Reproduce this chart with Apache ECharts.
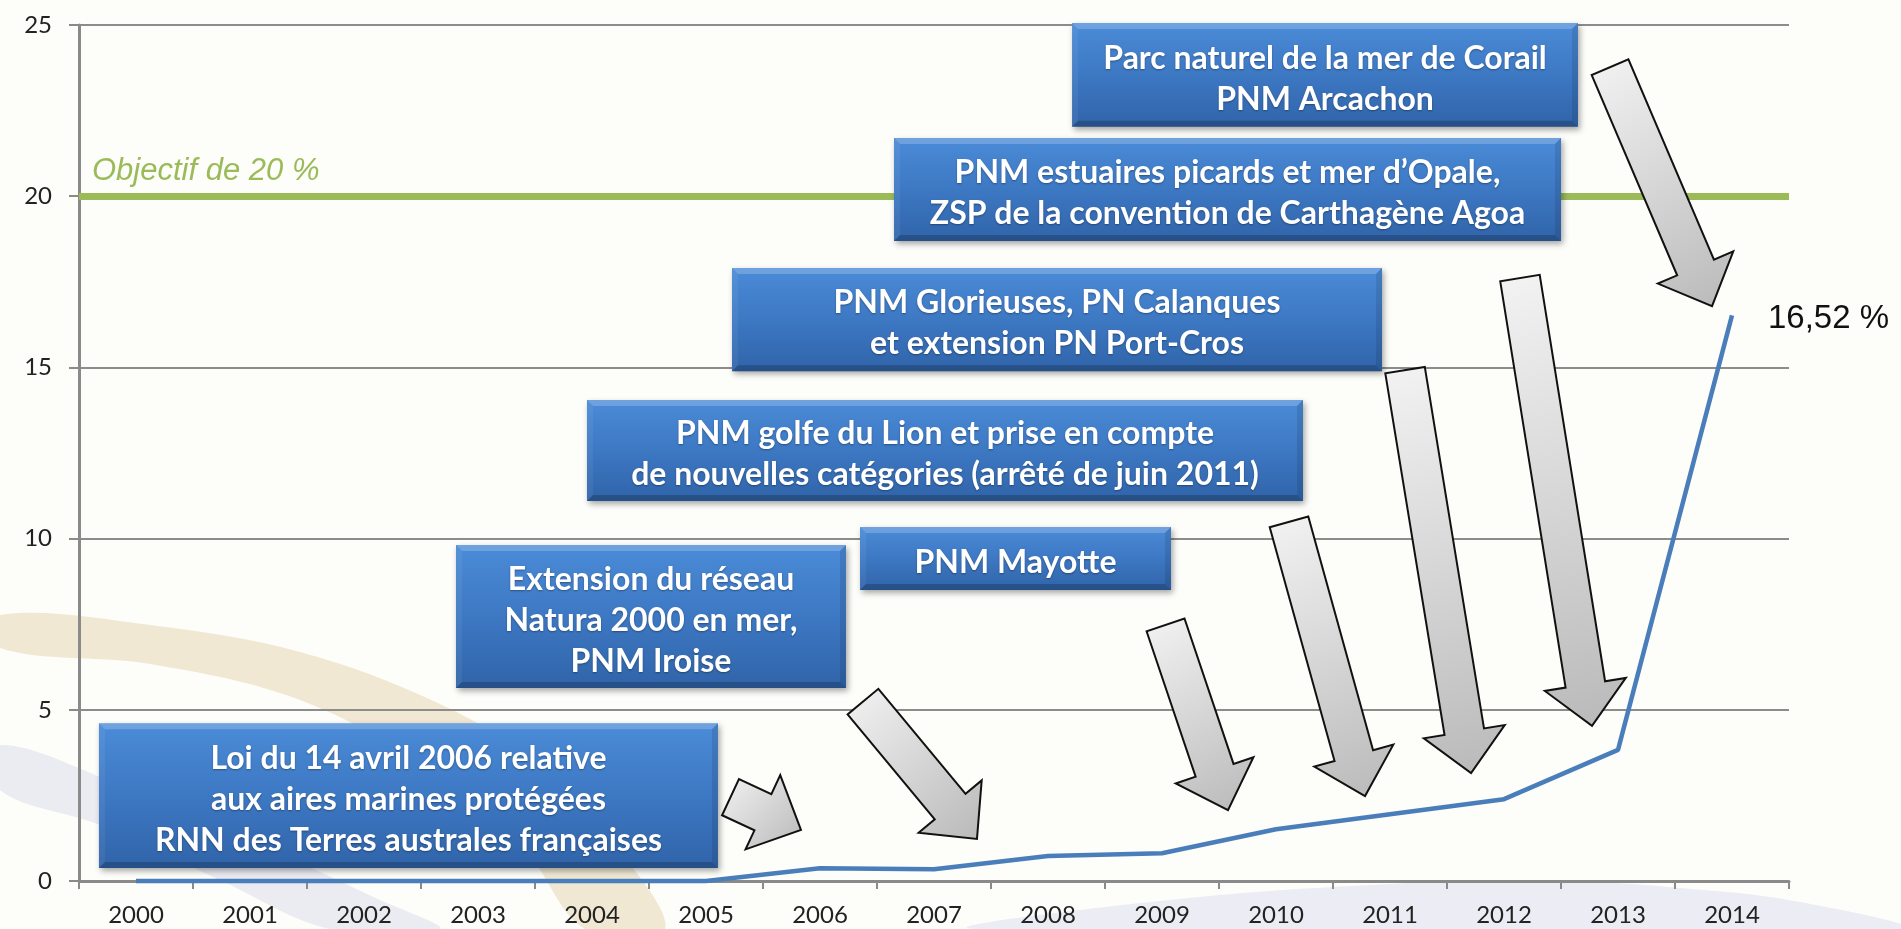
<!DOCTYPE html>
<html>
<head>
<meta charset="utf-8">
<script src="https://cdn.jsdelivr.net/npm/echarts@6/dist/echarts.min.js"></script>
<style>
html,body{margin:0;padding:0;background:#fdfdfa;}
#c{width:1901px;height:929px;}
</style>
</head>
<body>
<div id="c"></div>
<script>
// ---------- data ----------
const years = ['2000','2001','2002','2003','2004','2005','2006','2007','2008','2009','2010','2011','2012','2013','2014'];
const sharePct = [0, 0, 0, 0, 0, 0, 0.37, 0.34, 0.73, 0.81, 1.51, 1.95, 2.39, 3.83, 16.52];
const yMin = 0, yMax = 25, yStep = 5;
const targetPct = 20;
const targetLabel = 'Objectif de 20 %';
const lastLabel = '16,52 %';

// annotation boxes, positions in data units (category index, percent)
const boxLines = [
  ['Loi du 14 avril 2006 relative', 'aux aires marines protégées', 'RNN des Terres australes françaises'],
  ['Extension du réseau', 'Natura 2000 en mer,', 'PNM Iroise'],
  ['PNM Mayotte'],
  ['PNM golfe du Lion et prise en compte', 'de nouvelles catégories (arrêté de juin 2011)'],
  ['PNM Glorieuses, PN Calanques', 'et extension PN Port-Cros'],
  ['PNM estuaires picards et mer d\u2019Opale,', 'ZSP de la convention de Carthagène Agoa'],
  ['Parc naturel de la mer de Corail', 'PNM Arcachon']
];
const boxLeft   = [-0.325, 2.807, 6.351, 3.956, 5.228, 6.649, 8.211];
const boxRight  = [ 5.105, 6.228, 9.079, 10.237, 10.93, 12.50, 12.649];
const boxTop    = [ 4.61,  9.81, 10.34, 14.05, 17.90, 21.70, 25.06];
const boxBottom = [ 0.38,  5.64,  8.50, 11.10, 14.89, 18.69, 22.03];

// arrows: tail centre -> tip, in data units
const arrowTailX = [5.215, 6.377, 9.031, 10.114, 11.132, 12.14, 12.93];
const arrowTailY = [2.45, 5.24, 7.48, 10.49, 14.92, 17.61, 23.77];
const arrowTipX  = [5.833, 7.377, 9.579, 10.781, 11.711, 12.772, 13.825];
const arrowTipY  = [1.49, 1.23, 2.07, 2.48, 3.15, 4.53, 16.79];

// ---------- chart ----------
const chart = echarts.init(document.getElementById('c'));
const axisGray = '#8a8a8a';
const labelFont = 'Lato, "Open Sans", sans-serif';

chart.setOption({
  backgroundColor: '#fdfdfa',
  animation: false,
  grid: { left: 79, right: 112, top: 25, bottom: 48, containLabel: false, outerBoundsMode: 'none' },
  xAxis: [
    {
      type: 'category', data: years, boundaryGap: true,
      axisLine: { onZero: false, lineStyle: { color: axisGray, width: 3 } },
      axisTick: { show: true, length: 8, interval: 0, lineStyle: { color: axisGray, width: 2 } },
      axisLabel: { color: '#222222', fontFamily: labelFont, fontSize: 24, margin: 22, interval: 0 },
      splitLine: { show: false }
    },
    { type: 'value', min: -0.5, max: 14.5, show: false, position: 'top',
      axisLine: { show: false, onZero: false }, splitLine: { show: false } }
  ],
  yAxis: {
    type: 'value', min: yMin, max: yMax, interval: yStep, position: 'left',
    axisLine: { show: true, onZero: false, lineStyle: { color: axisGray, width: 3 } },
    axisTick: { show: true, length: 10, lineStyle: { color: axisGray, width: 2 } },
    axisLabel: { color: '#222222', fontFamily: labelFont, fontSize: 24, margin: 27 },
    splitLine: { show: true, lineStyle: { color: '#8c8c8c', width: 2 } }
  },
  series: [{
    type: 'line', xAxisIndex: 0, yAxisIndex: 0,
    data: sharePct, symbol: 'none', z: 3, clip: false,
    lineStyle: { color: '#4a7ebb', width: 4.5 },
    endLabel: {
      show: true, distance: 36, offset: [0, 4],
      fontFamily: '"Liberation Sans", Arial, sans-serif', fontSize: 33, color: '#111',
      formatter: () => lastLabel
    },
    markLine: {
      silent: true, symbol: 'none', z: 2,
      lineStyle: { color: '#9bbb59', width: 7, type: 'solid' },
      label: {
        show: true, position: 'insideStartTop', formatter: targetLabel,
        fontFamily: '"Liberation Sans", Arial, sans-serif', fontStyle: 'italic',
        fontSize: 31, color: '#9bbb59', distance: [13, 9]
      },
      data: [{ yAxis: targetPct }]
    }
  }]
});

// ---------- annotations ----------
function P(x, y) { return chart.convertToPixel({ xAxisIndex: 1, yAxisIndex: 0 }, [x, y]); }

const els = [];

// faint background swooshes of the slide
els.push({
  type: 'polygon', z: -5, silent: true,
  shape: { smooth: 0.35, points: [[0,615],[150,625],[300,652],[440,704],[540,765],[615,845],[665,929],[585,929],[525,850],[430,770],[300,700],[150,664],[0,648]] },
  style: { fill: '#f1e8d3' }
});
els.push({
  type: 'polygon', z: -5, silent: true,
  shape: { smooth: 0.35, points: [[0,745],[120,785],[250,840],[380,900],[440,929],[330,929],[220,880],[100,825],[0,790]] },
  style: { fill: '#ebebf2' }
});
els.push({
  type: 'polygon', z: -5, silent: true,
  shape: { smooth: 0.4, points: [[976,929],[1150,902],[1390,884],[1560,881],[1680,888],[1800,902],[1901,929]] },
  style: { fill: '#ececf4' }
});

// boxes
for (let i = 0; i < boxLines.length; i++) {
  const a = P(boxLeft[i], boxTop[i]);
  const b = P(boxRight[i], boxBottom[i]);
  const x0 = a[0], y0 = a[1], x1 = b[0], y1 = b[1];
  const w = x1 - x0, h = y1 - y0, e = 6;
  els.push({
    type: 'rect', z: 50, silent: true,
    shape: { x: x0, y: y0, width: w, height: h },
    style: {
      fill: { type: 'linear', x: 0, y: 0, x2: 0, y2: 1, colorStops: [
        { offset: 0, color: '#4b8bd7' }, { offset: 0.5, color: '#3d78c3' }, { offset: 1, color: '#3064a9' } ] },
      shadowColor: 'rgba(0,0,0,0.35)', shadowBlur: 6, shadowOffsetX: 2, shadowOffsetY: 3
    }
  });
  els.push({ type: 'polygon', z: 51, silent: true,
    shape: { points: [[x0,y0],[x1,y0],[x1-e,y0+e],[x0+e,y0+e]] }, style: { fill: 'rgba(255,255,255,0.2)' } });
  els.push({ type: 'polygon', z: 51, silent: true,
    shape: { points: [[x0,y1],[x1,y1],[x1-e,y1-e],[x0+e,y1-e]] }, style: { fill: 'rgba(0,0,0,0.2)' } });
  els.push({ type: 'polygon', z: 51, silent: true,
    shape: { points: [[x1,y0],[x1-e,y0+e],[x1-e,y1-e],[x1,y1]] }, style: { fill: 'rgba(0,0,0,0.1)' } });
  els.push({ type: 'polygon', z: 51, silent: true,
    shape: { points: [[x0,y0],[x0+e,y0+e],[x0+e,y1-e],[x0,y1]] }, style: { fill: 'rgba(255,255,255,0.06)' } });
  els.push({
    type: 'text', z: 52, silent: true,
    x: (x0 + x1) / 2, y: (y0 + y1) / 2 + 4,
    style: {
      text: boxLines[i].join('\n'),
      fill: '#ffffff',
      fontFamily: 'Lato, "Open Sans", sans-serif', fontWeight: 'bold', fontSize: 32,
      lineHeight: 41,
      align: 'center', verticalAlign: 'middle',
      textAlign: 'center', textVerticalAlign: 'middle',
      textShadowColor: 'rgba(0,0,0,0.35)', textShadowBlur: 2, textShadowOffsetY: 1
    }
  });
}

// arrows
const shaftW = 40, headW = 82, headL = 42;
for (let i = 0; i < arrowTailX.length; i++) {
  const T = P(arrowTailX[i], arrowTailY[i]);
  const H = P(arrowTipX[i], arrowTipY[i]);
  const dx = H[0] - T[0], dy = H[1] - T[1];
  const L = Math.sqrt(dx * dx + dy * dy);
  const ux = dx / L, uy = dy / L, nx = -uy, ny = ux;
  const B = [H[0] - ux * headL, H[1] - uy * headL];
  const s = shaftW / 2, hw = headW / 2;
  const pts = [
    [T[0] + nx * s, T[1] + ny * s],
    [B[0] + nx * s, B[1] + ny * s],
    [B[0] + nx * hw, B[1] + ny * hw],
    [H[0], H[1]],
    [B[0] - nx * hw, B[1] - ny * hw],
    [B[0] - nx * s, B[1] - ny * s],
    [T[0] - nx * s, T[1] - ny * s]
  ];
  els.push({
    type: 'polygon', z: 40, silent: true,
    shape: { points: pts },
    style: {
      fill: { type: 'linear', x: 0, y: 0, x2: 1, y2: 1, colorStops: [
        { offset: 0, color: '#f3f3f3' }, { offset: 1, color: '#b9b9b9' } ] },
      stroke: '#111111', lineWidth: 2, lineJoin: 'miter'
    }
  });
}

chart.setOption({ graphic: { elements: els } });
</script>
</body>
</html>
